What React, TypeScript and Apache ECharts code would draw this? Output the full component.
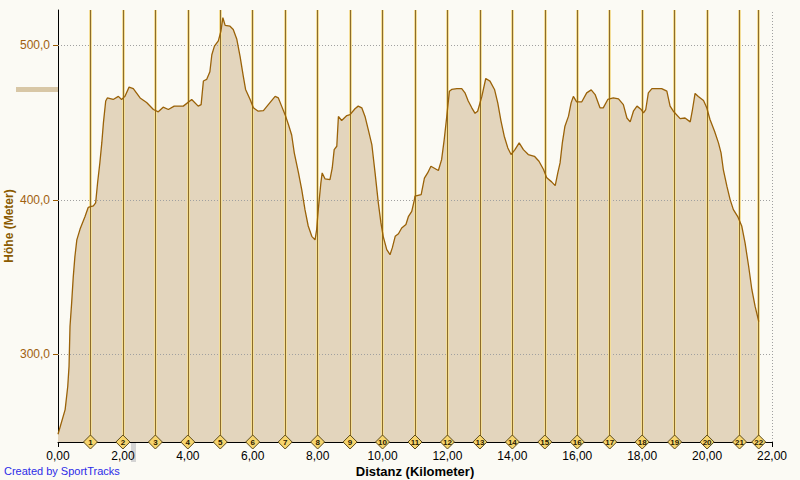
import React, { useEffect, useRef } from "react";
import * as echarts from "echarts";

// Elevation profile (distance in km, elevation in m)
const distanceKm = [
  0.0, 0.22, 0.3, 0.34, 0.37, 0.42, 0.47, 0.52, 0.58, 0.68, 0.83, 0.93, 1.09, 1.16, 1.22, 1.29, 1.35, 1.4, 1.47,
  1.52, 1.7, 1.86, 1.96, 2.06, 2.19, 2.32, 2.53, 2.73, 2.94, 3.09, 3.24, 3.4, 3.58,
  3.86, 4.12, 4.32, 4.41, 4.48, 4.58, 4.68, 4.74, 4.82, 4.94, 5.02, 5.08, 5.15, 5.3, 5.4, 5.51, 5.61, 5.71,
  5.78, 5.92, 6.02, 6.17, 6.33, 6.48, 6.69, 6.79, 6.89, 7.0, 7.1, 7.2, 7.28,
  7.41, 7.51, 7.61, 7.71, 7.82, 7.92, 7.97, 8.02, 8.1, 8.14, 8.23, 8.38, 8.45, 8.51, 8.59, 8.64, 8.74, 8.9,
  9.0, 9.15, 9.25, 9.36, 9.46, 9.56, 9.67, 9.77, 9.87, 9.95, 10.02, 10.13, 10.23, 10.3, 10.39, 10.49, 10.59,
  10.72, 10.8, 10.9, 10.98,
  11.0, 11.19, 11.29, 11.39, 11.49, 11.72, 11.82, 11.9, 11.98, 12.06, 12.13, 12.29, 12.44, 12.54, 12.64, 12.75,
  12.85, 12.93, 13.06, 13.18, 13.31, 13.45, 13.55, 13.65, 13.75, 13.86, 13.96, 14.08, 14.21, 14.34, 14.49, 14.68,
  14.82, 14.96, 15.06, 15.21, 15.32, 15.4, 15.47, 15.54, 15.62, 15.73, 15.81, 15.88, 15.98, 16.14, 16.29, 16.43,
  16.55, 16.7, 16.8, 16.94, 17.11, 17.27, 17.42, 17.53, 17.63, 17.73, 17.84, 17.97, 18.04, 18.11, 18.19, 18.3, 18.38,
  18.6, 18.76, 18.86, 18.96, 19.17, 19.32, 19.48, 19.55, 19.63, 19.73, 19.89, 19.99, 20.09, 20.23, 20.35, 20.43,
  20.5, 20.61, 20.71, 20.81, 20.95, 21.07, 21.17, 21.28, 21.38, 21.48, 21.58, 21.59,
];
const elevationM = [
  248, 264, 279, 292, 318, 333, 350, 363, 374, 381, 389, 395, 396, 398, 411, 424, 437, 450, 464,
  466, 465, 467, 465, 467, 473, 472, 466, 463, 458.5, 457, 460, 458.5, 460.7,
  460.7, 465, 460.7, 461.7, 477, 478, 483, 494, 499.6, 503, 509.3, 518, 513, 512.5, 510.4, 504, 493, 480,
  471.5, 465, 459.6, 457.4, 457.8, 461.7, 467, 466, 460.7, 455, 448.8, 442, 430.4,
  417.4, 406.6, 393.6, 383, 376.3, 374, 380.7, 393.6, 411, 417.4, 413.5, 413, 420.6, 432.5, 434.7, 454, 451.4, 454.6,
  455.2, 459, 460.7, 459.6, 454, 445.5, 435.8, 417.4, 398, 385, 376.3, 367.7, 364.4, 368.8, 376.3, 378, 381.7,
  384, 389.3, 392.5, 400,
  402.3, 403.4, 414, 417.4, 421.7, 419, 426, 439, 454.2, 470.4, 471.5, 472, 472, 469.3, 464, 459.6,
  456, 457.4, 467, 478.6, 476.9, 471.5, 462.8, 451, 441.2, 433.6, 429.3, 432.5, 436.9, 432.5, 429.3, 428.2,
  425, 419.6, 414.2, 411.6, 409.2, 417.4, 423.9, 436.9, 447.7, 454.2, 462.8, 467, 463.5, 463.5, 469.3, 471.2,
  468.2, 459.6, 459.6, 465, 466, 465.4, 461.7, 453, 450.5, 457.4, 460.7, 458.5, 456.3, 458.5, 469.3, 472, 472,
  472, 470.4, 460.7, 457.4, 452.6, 453, 450.5, 458.5, 468.9, 467, 464.3, 459.6, 452, 444.4, 436.9, 430.4,
  419.6, 408.8, 400.1, 393.6, 388.9, 382.8, 372, 356.9, 341.7, 330.9, 322.2, 321,
];

// Kilometre markers
const markerKm = [1, 2, 3, 4, 5, 6, 7, 8, 9, 10, 11, 12, 13, 14, 15, 16, 17, 18, 19, 20, 21, 21.59];
const markerLabels = ["1", "2", "3", "4", "5", "6", "7", "8", "9", "10", "11", "12", "13", "14", "15", "16", "17", "18", "19", "20", "21", "22"];

// Axis settings
const xMin = 0;
const xMax = 22;
const xInterval = 2;
const yMin = 243;
const yMax = 523;
const yTickValues = [300, 400, 500];

const FONT = "Liberation Sans, Arial, sans-serif";

export default function App() {
  const ref = useRef<HTMLDivElement>(null);

  useEffect(() => {
    if (!ref.current) return;
    const chart = echarts.init(ref.current, null, { renderer: "svg" });
    const profile = distanceKm.map((d, i) => [d, elevationM[i]]);
    const markers = markerKm.map((k, i) => [k, yMin, markerLabels[i]]);

    chart.setOption({
      animation: false,
      backgroundColor: "#FBFAF4",
      grid: { left: 58, right: 28, top: 10, bottom: 38, containLabel: false, outerBoundsMode: "none" },
      xAxis: {
        type: "value",
        min: xMin,
        max: xMax,
        interval: xInterval,
        name: "Distanz (Kilometer)",
        nameLocation: "middle",
        nameGap: 22,
        nameMoveOverlap: false,
        nameTextStyle: { fontFamily: FONT, fontSize: 13, lineHeight: 14, fontWeight: "bold", color: "#000" },
        axisLine: { show: true, onZero: false, lineStyle: { color: "#000", width: 1 } },
        axisTick: { show: true, length: 5, lineStyle: { color: "#000" } },
        axisLabel: {
          fontFamily: FONT,
          fontSize: 12,
          lineHeight: 12,
          color: "#000",
          margin: 8,
          formatter: (v: number) => v.toFixed(2).replace(".", ","),
        },
        splitLine: { show: false },
      },
      yAxis: {
        type: "value",
        min: yMin,
        max: yMax,
        name: "Höhe (Meter)",
        nameLocation: "middle",
        nameGap: 43,
        nameMoveOverlap: false,
        nameTextStyle: { fontFamily: FONT, fontSize: 12, fontWeight: "bold", color: "#8A5A00" },
        axisLine: { show: true, lineStyle: { color: "#000", width: 1 } },
        axisTick: { show: true, length: 5, customValues: yTickValues, lineStyle: { color: "#9A5A00" } },
        axisLabel: {
          fontFamily: FONT,
          fontSize: 12,
          color: "#A0600F",
          margin: 8,
          customValues: yTickValues,
          formatter: (v: number) => v.toFixed(1).replace(".", ","),
        },
        splitLine: { show: false },
      },
      series: [
        {
          type: "line",
          data: profile,
          z: 1,
          showSymbol: false,
          lineStyle: { width: 0, opacity: 0 },
          areaStyle: { color: "#E3D5BD", opacity: 1 },
          silent: true,
        },
        {
          type: "line",
          data: profile,
          z: 2,
          showSymbol: false,
          lineStyle: { opacity: 0 },
          silent: true,
          markLine: {
            silent: true,
            symbol: "none",
            label: { show: false },
            lineStyle: { color: "#A0A0A0", width: 1, type: [1, 2] },
            data: [
              ...yTickValues.map((v) => ({ yAxis: v })),
              { xAxis: xMax },
            ],
          },
        },
        {
          type: "line",
          data: profile,
          z: 3,
          showSymbol: false,
          lineStyle: { opacity: 0 },
          silent: true,
          markLine: {
            silent: true,
            symbol: "none",
            label: { show: false },
            lineStyle: { color: "#F4DE98", width: 3, type: "solid" },
            data: markerKm.map((k) => ({ xAxis: k })),
          },
        },
        {
          type: "line",
          data: profile,
          z: 4,
          showSymbol: false,
          lineStyle: { opacity: 0 },
          silent: true,
          markLine: {
            silent: true,
            symbol: "none",
            label: { show: false },
            lineStyle: { color: "#8C6C2A", width: 1, type: "solid" },
            data: markerKm.map((k) => ({ xAxis: k })),
          },
        },
        {
          type: "line",
          data: profile,
          z: 5,
          showSymbol: false,
          lineStyle: { color: "#9A6208", width: 1.3 },
          silent: true,
        },
        {
          type: "scatter",
          data: markers,
          z: 10,
          clip: false,
          symbol: "diamond",
          symbolSize: [14, 14],
          itemStyle: { color: "#F7D56E", borderColor: "#5C4A1A", borderWidth: 1, opacity: 1 },
          label: {
            show: true,
            position: "inside",
            formatter: (p: any) => p.value[2],
            fontFamily: FONT,
            fontSize: 8,
            fontWeight: "bold",
            color: "#2A2000",
          },
          silent: true,
        },
      ],
      graphic: [
        {
          type: "rect",
          shape: { x: 16, y: 87, width: 42, height: 5 },
          style: { fill: "#D8C7A6" },
          silent: true,
        },
        {
          type: "rect",
          shape: { x: 131, y: 443, width: 5, height: 19 },
          style: { fill: "#D4D4D4" },
          silent: true,
        },
        {
          type: "text",
          x: 4,
          y: 465,
          style: { text: "Created by SportTracks", fill: "#2C2CE8", font: `11px ${FONT}` },
          silent: true,
        },
      ],
    });

    return () => chart.dispose();
  }, []);

  return (
    <div
      ref={ref}
      style={{ position: "absolute", left: 0, top: 0, width: 800, height: 480 }}
    />
  );
}
